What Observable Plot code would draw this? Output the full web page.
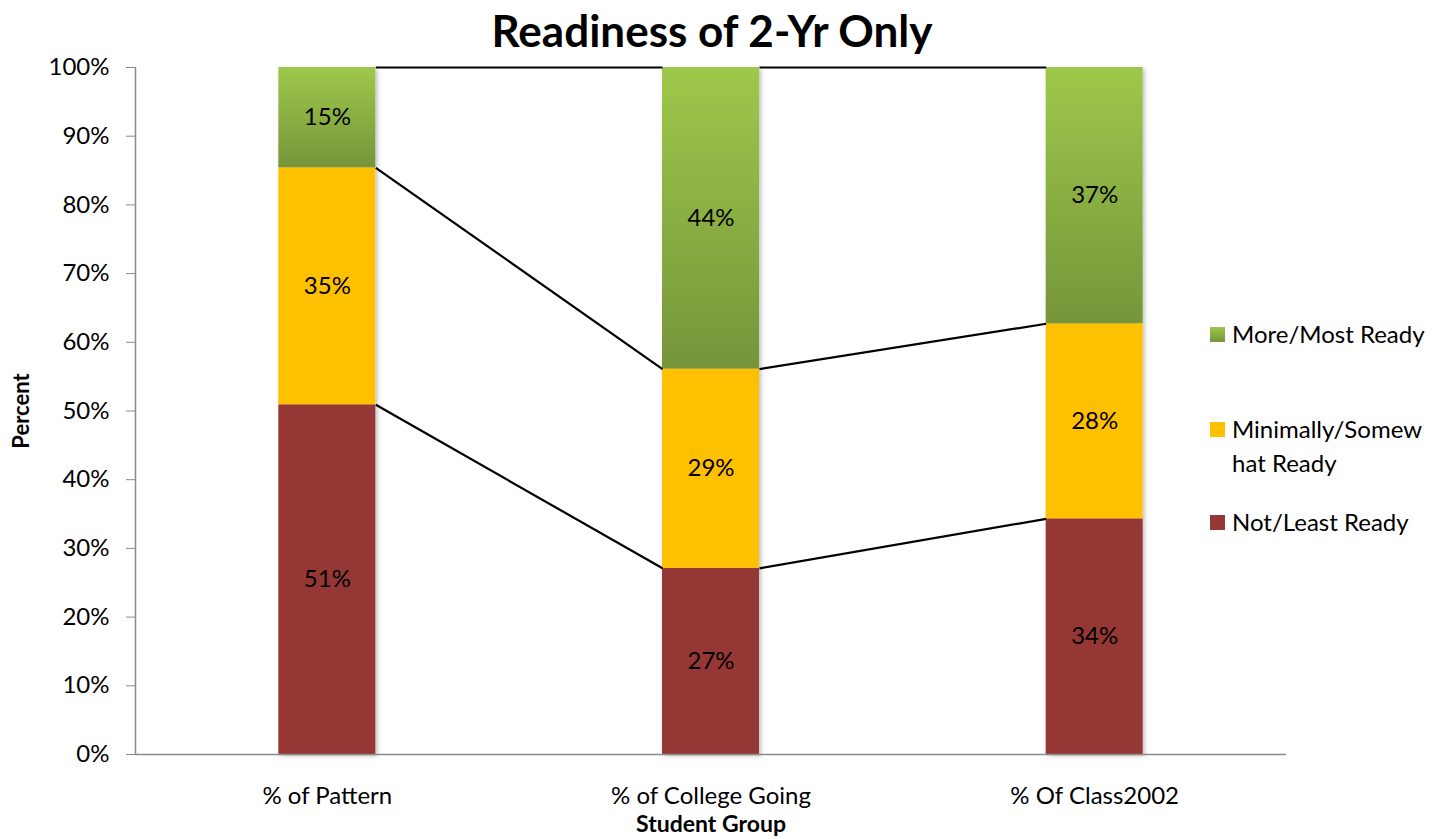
<!DOCTYPE html>
<html>
<head>
<meta charset="utf-8">
<script src="https://cdn.jsdelivr.net/npm/d3@7"></script>
<script src="https://cdn.jsdelivr.net/npm/@observablehq/plot@0.6"></script>
<style>
  html, body { margin: 0; padding: 0; background: #fff; }
  #wrap { position: relative; width: 1432px; height: 839px; font-family: Lato, "Open Sans", sans-serif; color: #000; }
  #title { position: absolute; left: 0; top: 5px; width: 1424px; text-align: center; font-weight: bold; font-size: 44px; line-height: 50px; z-index: 2; }
  #chart { position: absolute; left: 0; top: 50px; z-index: 1; }
  #legend { position: absolute; left: 1210px; top: 0; font-size: 24px; z-index: 3; }
  .item { position: absolute; left: 0; white-space: nowrap; }
  .sw { position: absolute; left: 0; width: 15px; height: 15px; }
  .lab { position: absolute; left: 22px; line-height: 34px; }
</style>
</head>
<body>
<div id="wrap">
  <div id="title"></div>
  <div id="chart"></div>
  <div id="legend"></div>
</div>
<script>
const title = "Readiness of 2-Yr Only";
const categories = ["% of Pattern", "% of College Going", "% Of Class2002"];
const seriesNames = ["Not/Least Ready", "Minimally/Somewhat Ready", "More/Most Ready"];
const legendLabels = ["More/Most Ready", "Minimally/Somew\nhat Ready", "Not/Least Ready"];
const notReady = [50.9, 27.1, 34.3];
const minReady = [34.5, 29.0, 28.4];
const moreReady = [14.6, 43.9, 37.3];
const yTicks = [0, 10, 20, 30, 40, 50, 60, 70, 80, 90, 100];
const xTitle = "Student Group";
const yTitle = "Percent";

const colors = ["#953735", "#FFC000", "url(#greenGrad)"];
const hw = 0.1264; // half bar width in category units

const values = [notReady, minReady, moreReady];
const rows = [];
const tops = seriesNames.map(() => []);
categories.forEach((c, i) => {
  let acc = 0;
  seriesNames.forEach((s, k) => {
    const v = values[k][i];
    rows.push({i, cat: c, series: s, value: v, y1: acc, y2: acc + v});
    acc += v;
    tops[k].push(acc);
  });
});
const links = [];
seriesNames.forEach((s, k) => {
  for (let i = 0; i < categories.length - 1; i++) {
    links.push({x1: i + hw, x2: i + 1 - hw, y1: tops[k][i], y2: tops[k][i + 1]});
  }
});

document.getElementById("title").textContent = title;

const plot = Plot.plot({
  width: 1432,
  height: 789,
  marginTop: 17,
  marginBottom: 85,
  marginLeft: 135,
  marginRight: 146,
  style: {fontFamily: "Lato, 'Open Sans', sans-serif", fontSize: "24px", color: "#000", background: "transparent"},
  x: {domain: [-0.5, categories.length - 0.5], axis: null},
  y: {domain: [0, 100], axis: null},
  color: {domain: seriesNames, range: colors},
  marks: [
    Plot.rect(rows, {x1: d => d.i - hw, x2: d => d.i + hw, y1: "y1", y2: "y2", fill: "series"}),
    Plot.link(links, {x1: "x1", y1: "y1", x2: "x2", y2: "y2", stroke: "#000", strokeWidth: 2.2}),
    Plot.text(rows, {x: "i", y: d => (d.y1 + d.y2) / 2, text: d => Math.round(d.value) + "%", fill: "#000"}),
    Plot.ruleY([0], {stroke: "#8a8a8a", strokeWidth: 1.5}),
    Plot.ruleX([-0.5], {stroke: "#8a8a8a", strokeWidth: 1.5}),
    Plot.axisY({ticks: yTicks, tickFormat: d => d + "%", tickSize: 9, tickPadding: 17, stroke: "#8a8a8a", fill: "#000"}),
    Plot.axisX({ticks: categories.map((c, i) => i), tickFormat: i => categories[i], tickSize: 0, tickPadding: 32, fill: "#000"}),
    Plot.text([yTitle], {frameAnchor: "left", textAnchor: "middle", dx: -114, rotate: -90, fontWeight: "bold", fontSize: 22, fill: "#000"}),
    Plot.text([xTitle], {frameAnchor: "bottom", dy: 77, fontWeight: "bold", fontSize: 23, fill: "#000"})
  ]
});

const defs = d3.select(plot).insert("defs", ":first-child");
const g = defs.append("linearGradient").attr("id", "greenGrad").attr("x1", 0).attr("y1", 0).attr("x2", 0).attr("y2", 1);
g.append("stop").attr("offset", "0%").attr("stop-color", "#9ec84b");
g.append("stop").attr("offset", "100%").attr("stop-color", "#76953a");
const f = defs.append("filter").attr("id", "shadow").attr("x", "-20%").attr("y", "-5%").attr("width", "140%").attr("height", "110%");
f.append("feDropShadow").attr("dx", 2).attr("dy", 2).attr("stdDeviation", 2).attr("flood-color", "#000").attr("flood-opacity", 0.25);
d3.select(plot).select('g[aria-label="rect"]').attr("filter", "url(#shadow)");

document.getElementById("chart").appendChild(plot);

// legend
const legend = d3.select("#legend");
const legendColors = ["linear-gradient(#9ec84b, #76953a)", "#FFC000", "#953735"];
const swTop = [327, 422, 515];
legendLabels.forEach((lab, k) => {
  const item = legend.append("div").attr("class", "item").style("top", swTop[k] + "px");
  item.append("div").attr("class", "sw").style("background", legendColors[k]);
  const t = item.append("div").attr("class", "lab").style("top", "-10px");
  lab.split("\n").forEach((line, j) => { if (j) t.append("br"); t.append("span").text(line); });
});
</script>
</body>
</html>
